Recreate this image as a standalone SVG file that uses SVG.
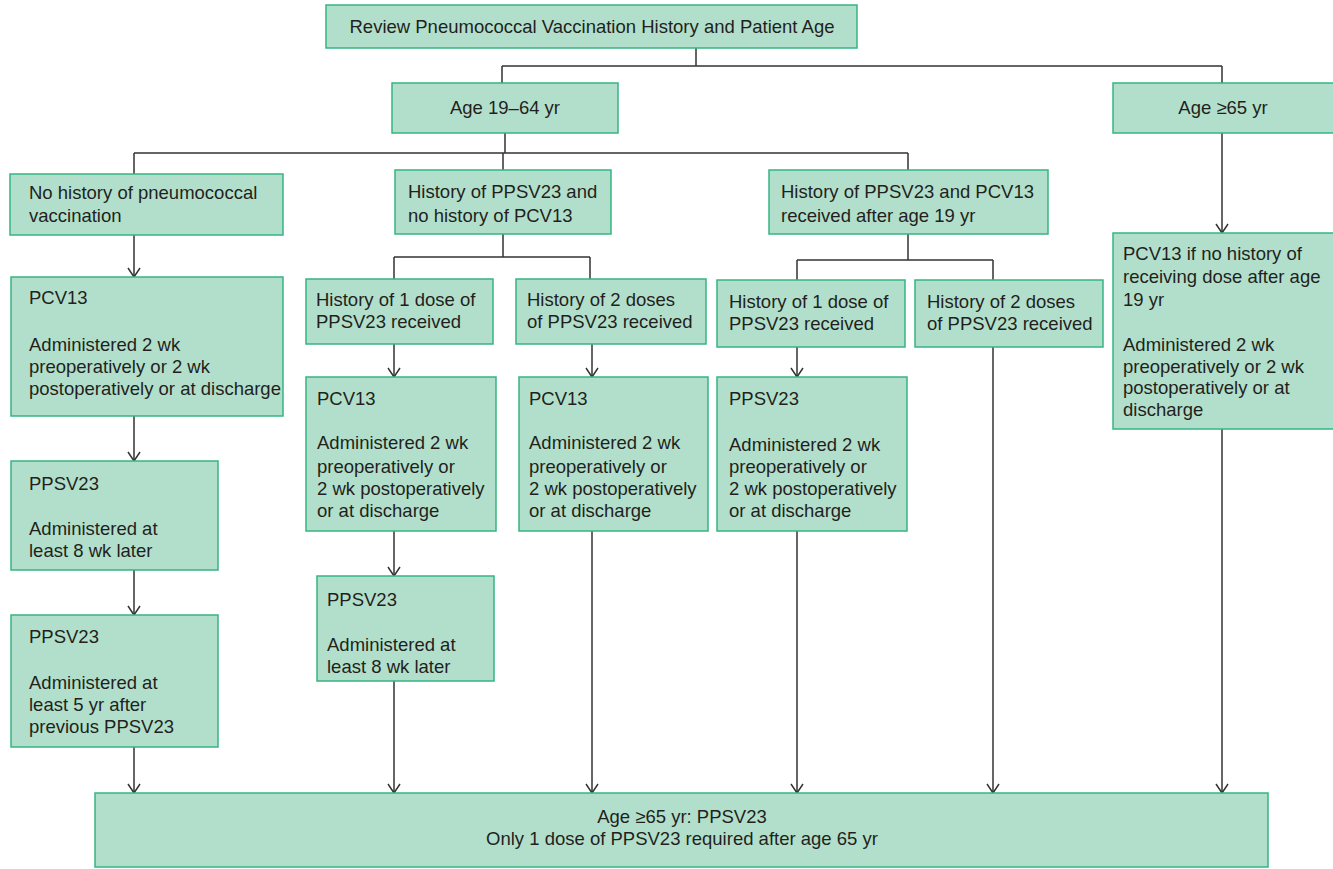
<svg xmlns="http://www.w3.org/2000/svg" width="1333" height="869" viewBox="0 0 1333 869">
<style>
.box{fill:#b2dfcb;stroke:#35b582;stroke-width:1.5}
text{font-family:"Liberation Sans",Arial,sans-serif;font-size:18.5px;fill:#231f20}
.c{text-anchor:middle}
.ln{fill:none;stroke:#333;stroke-width:1.5}
</style>
<defs>
<marker id="ah" markerWidth="12" markerHeight="14" viewBox="0 0 12 14" refX="11" refY="7" orient="auto" markerUnits="userSpaceOnUse">
<path d="M2,1 L11,7 L2,13" fill="none" stroke="#333" stroke-width="1.5"/>
</marker>
</defs>
<rect width="1333" height="869" fill="#fff"/>
<g id="connectors">
<path class="ln" d="M696,48 V66 M502,66 H1222 M502,66 V83 M1222,66 V83"/>
<path class="ln" d="M505,133 V153 M134,153 H908 M134,153 V174 M503,153 V170 M908,153 V170"/>
<path class="ln" d="M503,234 V257 M394,257 H590 M394,257 V279 M590,257 V279"/>
<path class="ln" d="M908,234 V260 M797,260 H993 M797,260 V280 M993,260 V280"/>
<path class="ln" marker-end="url(#ah)" d="M134,235 V277"/>
<path class="ln" marker-end="url(#ah)" d="M134,416 V461"/>
<path class="ln" marker-end="url(#ah)" d="M134,570 V615"/>
<path class="ln" marker-end="url(#ah)" d="M134,747 V793"/>
<path class="ln" marker-end="url(#ah)" d="M394,344 V377"/>
<path class="ln" marker-end="url(#ah)" d="M592,344 V377"/>
<path class="ln" marker-end="url(#ah)" d="M394,531 V576"/>
<path class="ln" marker-end="url(#ah)" d="M394,681 V793"/>
<path class="ln" marker-end="url(#ah)" d="M592,531 V793"/>
<path class="ln" marker-end="url(#ah)" d="M797,347 V377"/>
<path class="ln" marker-end="url(#ah)" d="M797,531 V793"/>
<path class="ln" marker-end="url(#ah)" d="M993,347 V793"/>
<path class="ln" marker-end="url(#ah)" d="M1222,133 V233"/>
<path class="ln" marker-end="url(#ah)" d="M1222,429 V793"/>
</g>
<g id="review">
<rect class="box" x="326" y="5" width="531" height="43"/>
<text class="c" x="592" y="33">Review Pneumococcal Vaccination History and Patient Age</text>
</g>
<g id="age1964">
<rect class="box" x="392" y="83" width="226" height="50"/>
<text class="c" x="505" y="114">Age 19–64 yr</text>
</g>
<g id="age65">
<rect class="box" x="1113" y="83" width="225" height="50"/>
<text class="c" x="1223" y="114">Age ≥65 yr</text>
</g>
<g id="nohistory">
<rect class="box" x="10" y="174" width="273" height="61"/>
<text x="29" y="199">No history of pneumococcal</text>
<text x="29" y="222">vaccination</text>
</g>
<g id="ppsv23nopcv">
<rect class="box" x="395" y="170" width="216" height="64"/>
<text x="408" y="198">History of PPSV23 and</text>
<text x="408" y="222">no history of PCV13</text>
</g>
<g id="ppsv23pcv">
<rect class="box" x="769" y="170" width="279" height="64"/>
<text x="781" y="198">History of PPSV23 and PCV13</text>
<text x="781" y="222">received after age 19 yr</text>
</g>
<g id="pcv13a">
<rect class="box" x="11" y="277" width="272" height="139"/>
<text x="29" y="304">PCV13</text>
<text x="29" y="351">Administered 2 wk</text>
<text x="29" y="373">preoperatively or 2 wk</text>
<text x="29" y="395">postoperatively or at discharge</text>
</g>
<g id="ppsv23a">
<rect class="box" x="11" y="461" width="207" height="109"/>
<text x="29" y="490">PPSV23</text>
<text x="29" y="535">Administered at</text>
<text x="29" y="557">least 8 wk later</text>
</g>
<g id="ppsv23b">
<rect class="box" x="11" y="615" width="207" height="132"/>
<text x="29" y="643">PPSV23</text>
<text x="29" y="689">Administered at</text>
<text x="29" y="711">least 5 yr after</text>
<text x="29" y="733">previous PPSV23</text>
</g>
<g id="onedoseL">
<rect class="box" x="306" y="279" width="187" height="65"/>
<text x="316" y="306">History of 1 dose of</text>
<text x="316" y="328">PPSV23 received</text>
</g>
<g id="twodoseL">
<rect class="box" x="516" y="279" width="190" height="65"/>
<text x="527" y="306">History of 2 doses</text>
<text x="527" y="328">of PPSV23 received</text>
</g>
<g id="pcv13b">
<rect class="box" x="306" y="377" width="190" height="154"/>
<text x="317" y="405">PCV13</text>
<text x="317" y="449">Administered 2 wk</text>
<text x="317" y="473">preoperatively or</text>
<text x="317" y="495">2 wk postoperatively</text>
<text x="317" y="517">or at discharge</text>
</g>
<g id="pcv13c">
<rect class="box" x="519" y="377" width="189" height="154"/>
<text x="529" y="405">PCV13</text>
<text x="529" y="449">Administered 2 wk</text>
<text x="529" y="473">preoperatively or</text>
<text x="529" y="495">2 wk postoperatively</text>
<text x="529" y="517">or at discharge</text>
</g>
<g id="ppsv23c">
<rect class="box" x="317" y="576" width="177" height="105"/>
<text x="327" y="606">PPSV23</text>
<text x="327" y="651">Administered at</text>
<text x="327" y="673">least 8 wk later</text>
</g>
<g id="onedoseR">
<rect class="box" x="717" y="280" width="188" height="67"/>
<text x="729" y="308">History of 1 dose of</text>
<text x="729" y="330">PPSV23 received</text>
</g>
<g id="twodoseR">
<rect class="box" x="915" y="280" width="188" height="67"/>
<text x="927" y="308">History of 2 doses</text>
<text x="927" y="330">of PPSV23 received</text>
</g>
<g id="ppsv23d">
<rect class="box" x="717" y="377" width="190" height="154"/>
<text x="729" y="405">PPSV23</text>
<text x="729" y="451">Administered 2 wk</text>
<text x="729" y="473">preoperatively or</text>
<text x="729" y="495">2 wk postoperatively</text>
<text x="729" y="517">or at discharge</text>
</g>
<g id="pcv13elder">
<rect class="box" x="1113" y="233" width="225" height="196"/>
<text x="1123" y="260">PCV13 if no history of</text>
<text x="1123" y="283">receiving dose after age</text>
<text x="1123" y="306">19 yr</text>
<text x="1123" y="351">Administered 2 wk</text>
<text x="1123" y="373">preoperatively or 2 wk</text>
<text x="1123" y="394">postoperatively or at</text>
<text x="1123" y="416">discharge</text>
</g>
<g id="final">
<rect class="box" x="95" y="793" width="1173" height="74"/>
<text class="c" x="682" y="823">Age ≥65 yr: PPSV23</text>
<text class="c" x="682" y="845">Only 1 dose of PPSV23 required after age 65 yr</text>
</g>
</svg>
